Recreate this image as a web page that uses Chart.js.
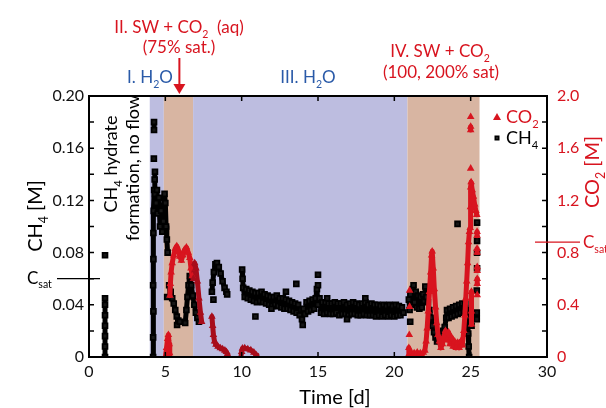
<!DOCTYPE html>
<html>
<head>
<meta charset="utf-8">
<script src="https://cdn.jsdelivr.net/npm/chart.js@4/dist/chart.umd.min.js"></script>
<style>
  html, body { margin: 0; padding: 0; background: #fff; }
</style>
</head>
<body>
<canvas id="chart" width="606" height="408"></canvas>
<script>
// ---- data (days, molar concentrations); null = gap in the record ----
const ch4Days = [
  1.05, 1.05, 1.05, 1.05, 1.05, 1.05, 1.05, 1.05,
  1.05, 1.05,
  4.2, 4.2, 4.22, 4.2, 4.22, 4.22, 4.24, 4.27, 4.3, 4.32, 4.32,
  4.25, 4.25, 4.26, 4.26, 4.26,
  4.32, 4.4, 4.45, 4.5, 4.58, 4.65, 4.72, 4.8, 4.87, 4.95, 5.0, 5.05, 5.1, 5.15, 5.15,
  5.12, 5.12, 5.77, 5.77,
  5.25, 5.35, 5.45, 5.55, 5.65, 5.75, 5.85, 5.95, 5.95,
  6.3, 6.38, 6.45, 6.52, 6.6, 6.7, 6.8, 6.9, 7.0, 7.1, 7.2, 7.2,
  8.05, 8.1, 8.18, 8.28, 8.38, 8.5, 8.62, 8.75, 8.88, 9.0, 9.05, 9.05, 8.15, 8.15,
  10.03, 10.06, 10.1,
  10.2, 10.3, 10.4, 10.5, 10.6, 10.7, 10.8, 10.9, 11.0, 11.1,
  11.2, 11.3, 11.4, 11.5, 11.6, 11.7, 11.8, 11.9, 12.0, 12.1,
  12.2, 12.3, 12.4, 12.5, 12.6, 12.7, 12.8, 12.9, 13.0, 13.1,
  13.2, 13.3, 13.4, 13.5, 13.6, 13.7, 13.8, 13.9,
  13.95, 14.05, 14.15, 14.25, 14.35, 14.45, 14.55, 14.65, 14.75, 14.85, 14.93,
  15.0, 15.1, 15.2, 15.3, 15.4, 15.5, 15.6, 15.7, 15.8, 15.9,
  16.0, 16.1, 16.2, 16.3, 16.4, 16.5, 16.6, 16.7, 16.8, 16.9,
  17.0, 17.1, 17.2, 17.3, 17.4, 17.5, 17.6, 17.7, 17.8, 17.9,
  18.0, 18.1, 18.2, 18.3, 18.4, 18.5, 18.6, 18.7, 18.8, 18.9,
  19.0, 19.1, 19.2, 19.3, 19.4, 19.5, 19.6, 19.7, 19.8, 19.9,
  20.0, 20.1, 20.2, 20.3, 20.4, 20.5, 20.6, 20.6,
  10.9, 10.9, 11.95, 11.95, 12.9, 12.9, 13.58, 13.58, 14.0, 14.0,
  15.0, 15.0, 15.0, 15.0, 15.6, 15.6, 16.9, 16.9, 18.1, 18.1,
  20.95, 21.0, 21.05, 21.12, 21.2, 21.26, 21.32, 21.4, 21.48, 21.56,
  21.64, 21.72, 21.8, 21.88, 21.96, 22.03, 22.1, 22.2, 22.3, 22.4,
  22.5, 22.6, 22.7, 22.8, 22.9, 23.0, 23.1, 23.2, 23.3, 23.4,
  23.45, 23.55, 23.65, 23.75, 23.85, 23.95, 24.05, 24.15, 24.25, 24.35,
  24.45, 24.55, 24.65, 24.72, 24.8, 24.84, 24.87, 24.9, 24.9,
  21.04, 21.04, 24.14, 24.14, 25.0, 25.0, 25.06, 25.06,
  25.42, 25.42, 25.42, 25.42, 25.42, 25.42, 25.42, 25.42,
  25.4, 25.4, 25.4, 25.4, 25.4, 25.4
];
const ch4Conc = [
  0, 0.008, 0.016, 0.024, 0.032, 0.04, 0.045, null,
  0.078, null,
  0, 0.015, 0.035, 0.055, 0.075, 0.095, 0.112, 0.128, 0.136, 0.142, null,
  0.152, null, 0.174, 0.18, null,
  0.125, 0.118, 0.128, 0.11, 0.122, 0.1, 0.112, 0.096, 0.104, 0.125, 0.118, 0.1, 0.09, 0.08, null,
  0.046, null, 0.0245, null,
  0.055, 0.05, 0.045, 0.041, 0.036, 0.031, 0.028, 0.027, null,
  0.026, 0.036, 0.046, 0.055, 0.062, 0.055, 0.047, 0.04, 0.034, 0.03, 0.027, null,
  0.05, 0.057, 0.065, 0.071, 0.072, 0.069, 0.064, 0.058, 0.053, 0.05, 0.048, null, 0.044, null,
  0.067, 0.06, 0.053,
  0.046, 0.052, 0.045, 0.051, 0.044, 0.05, 0.043, 0.049, 0.042, 0.049,
  0.043, 0.05, 0.042, 0.048, 0.041, 0.047, 0.04, 0.046, 0.039, 0.046,
  0.04, 0.047, 0.039, 0.045, 0.038, 0.045, 0.037, 0.044, 0.037, 0.043,
  0.036, 0.042, 0.035, 0.041, 0.034, 0.04, 0.032, 0.036,
  0.029, 0.037, 0.033, 0.042, 0.035, 0.043, 0.036, 0.044, 0.037, 0.045, 0.052,
  0.04, 0.045, 0.034, 0.042, 0.033, 0.042, 0.034, 0.041, 0.033, 0.041,
  0.033, 0.042, 0.034, 0.041, 0.032, 0.041, 0.033, 0.042, 0.033, 0.04,
  0.032, 0.041, 0.033, 0.042, 0.033, 0.041, 0.032, 0.04, 0.032, 0.041,
  0.033, 0.042, 0.032, 0.04, 0.032, 0.041, 0.032, 0.04, 0.031, 0.04,
  0.032, 0.039, 0.031, 0.04, 0.032, 0.039, 0.031, 0.04, 0.032, 0.039,
  0.031, 0.04, 0.032, 0.039, 0.032, 0.038, 0.034, null,
  0.031, null, 0.037, null, 0.05, null, 0.056, null, 0.0245, null,
  0.063, null, 0.055, null, 0.045, null, 0.029, null, 0.045, null,
  0.044, 0.036, 0.048, 0.04, 0.052, 0.055, 0.042, 0.05, 0.038, 0.047,
  0.037, 0.046, 0.038, 0.048, 0.043, 0.054, 0.046, 0.042, 0.036, 0.03,
  0.024, 0.019, 0.015, 0.012, 0.014, 0.016, 0.018, 0.02, 0.023, 0.03,
  0.036, 0.03, 0.037, 0.031, 0.038, 0.032, 0.039, 0.033, 0.04, 0.034,
  0.041, 0.035, 0.041, 0.036, 0.03, 0.018, 0.008, 0, null,
  0.027, null, 0.102, null, 0.033, null, 0.024, null,
  0.103, null, 0.089, null, 0.08, null, 0.068, null,
  0.051, null, 0.034, null, 0.029, null
];

const co2Days = [
  5.0, 5.08, 5.15, 5.2, 5.25, 5.28, 5.3, 5.3,
  5.3, 5.33, 5.38, 5.45, 5.55, 5.65, 5.75, 5.85, 5.95, 6.05, 6.15, 6.25, 6.38,
  6.5, 6.6, 6.68, 6.76, 6.84, 6.92, 7.0, 7.1, 7.2, 7.3, 7.38, 7.38,
  8.05, 8.1, 8.15, 8.22, 8.32, 8.45, 8.6, 8.75, 8.9, 9.0, 9.06, 9.1, 9.1,
  9.95, 10.0, 10.05, 10.2, 10.4, 10.6, 10.8, 10.95, 11.0, 11.0,
  21.0, 21.0, 21.0, 21.0, 20.98, 20.98,
  20.9, 20.95, 21.0, 21.1, 21.2, 21.3, 21.4, 21.5, 21.6, 21.7,
  21.8, 21.9, 22.0, 22.08, 22.15, 22.22, 22.3, 22.38, 22.44, 22.48,
  22.55, 22.62, 22.7, 22.78, 22.86, 22.95, 23.05, 23.15, 23.25, 23.35,
  23.45, 23.55, 23.65, 23.75, 23.85, 23.95, 24.05, 24.15, 24.25, 24.35,
  24.45, 24.55, 24.62, 24.68, 24.74, 24.8, 24.86, 24.92, 24.97, 24.99,
  25.0, 25.03, 25.1, 25.18, 25.26, 25.34, 25.4, 25.4,
  25.05, 25.05, 25.06, 25.06,
  25.0, 25.0, 25.0, 25.0, 25.0, 25.0, 25.0,
  25.42, 25.42, 25.42, 25.42, 25.42, 25.42, 25.43, 25.43, 25.43, 25.43, 25.43, 25.43, 25.43, 25.43
];
const co2Conc = [
  0, 0.07, 0.14, 0.17, 0.1, 0.03, 0, null,
  0.47, 0.56, 0.65, 0.72, 0.78, 0.83, 0.85, 0.82, 0.77, 0.74, 0.78, 0.82, 0.84,
  0.8, 0.76, 0.68, 0.62, 0.6, 0.72, 0.68, 0.58, 0.45, 0.34, 0.27, null,
  0.31, 0.24, 0.17, 0.12, 0.095, 0.08, 0.068, 0.06, 0.05, 0.04, 0.02, 0, null,
  0, 0.04, 0.065, 0.068, 0.06, 0.052, 0.035, 0.015, 0, null,
  0.51, null, 0.385, null, 0.17, null,
  0.005, 0.07, 0.02, 0.035, 0.01, 0.03, 0.012, 0.035, 0.015, 0.03,
  0.012, 0.035, 0.05, 0.12, 0.22, 0.35, 0.5, 0.65, 0.78, 0.81,
  0.68, 0.52, 0.38, 0.26, 0.17, 0.12, 0.07, 0.1, 0.16, 0.2,
  0.13, 0.19, 0.1, 0.15, 0.08, 0.12, 0.07, 0.11, 0.07, 0.12,
  0.09, 0.2, 0.32, 0.45, 0.58, 0.72, 0.88, 0.96, 0.99, 1.15,
  1.3, 1.34, 1.28, 1.23, 1.17, 1.12, 1.09, null,
  0.5, 0.35, 0.25, null,
  1.84, null, 1.765, 1.74, null, 1.445, null,
  0.96, 0.93, null, 0.83, 0.8, null, 0.69, 0.66, null, 0.6, 0.56, null, 0.475, null
];

// experimental stages (day ranges)
const stageStart = [3.98, 4.9, 6.82, 20.86];
const stageEnd = [4.9, 6.82, 20.86, 25.58];
const stageKind = ['H2O', 'CO2', 'H2O', 'CO2'];

// saturation levels
const ch4Sat = 0.06;
const co2Sat = 0.88;

if (ch4Days.length !== ch4Conc.length || co2Days.length !== co2Conc.length) {
  console.error('length mismatch', ch4Days.length, ch4Conc.length, co2Days.length, co2Conc.length);
}

const FONT = 'Lato, "Open Sans", sans-serif';
const RED = '#d8141f';
const DARK_RED = '#a80d1b';
const BLUE_TEXT = '#2a5aa8';
const BLUE_FILL = '#bdbde0';
const TAN_FILL = '#d8b5a2';

function inWater(t) {
  for (let i = 0; i < stageStart.length; i++) {
    if (stageKind[i] === 'H2O' && t >= stageStart[i] && t < stageEnd[i]) return true;
  }
  return false;
}

// text with subscripts: parts = [[text, isSub], ...]
function richText(ctx, parts, x, y, size, color, align) {
  let w = 0;
  parts.forEach(p => {
    ctx.font = (p[1] ? size * 0.62 : size) + 'px ' + FONT;
    w += ctx.measureText(p[0]).width;
  });
  let cx = align === 'center' ? x - w / 2 : (align === 'right' ? x - w : x);
  ctx.fillStyle = color;
  ctx.textAlign = 'left';
  ctx.textBaseline = 'alphabetic';
  parts.forEach(p => {
    const s = p[1] ? size * 0.62 : size;
    ctx.font = s + 'px ' + FONT;
    ctx.fillText(p[0], cx, y + (p[1] ? size * 0.28 : 0));
    cx += ctx.measureText(p[0]).width;
  });
}

function vertText(ctx, parts, x, y, size, color) {
  ctx.save();
  ctx.translate(x, y);
  ctx.rotate(-Math.PI / 2);
  richText(ctx, parts, 0, 0, size, color, 'center');
  ctx.restore();
}

const decor = {
  id: 'decor',
  beforeDatasetsDraw(chart) {
    const { ctx, chartArea: a, scales: { x } } = chart;
    ctx.save();
    for (let i = 0; i < stageStart.length; i++) {
      const x0 = x.getPixelForValue(stageStart[i]);
      const x1 = x.getPixelForValue(stageEnd[i]);
      ctx.fillStyle = stageKind[i] === 'H2O' ? BLUE_FILL : TAN_FILL;
      ctx.fillRect(x0, a.top, x1 - x0, a.bottom - a.top);
    }
    ctx.restore();
  },
  afterDraw(chart) {
    const { ctx, chartArea: a, scales: { x, y, y2 } } = chart;
    ctx.save();

    // frame
    ctx.strokeStyle = '#000';
    ctx.lineWidth = 2;
    ctx.strokeRect(a.left, a.top, a.right - a.left, a.bottom - a.top);

    // inward ticks
    ctx.lineWidth = 1.5;
    ctx.beginPath();
    x.ticks.forEach(t => {
      const px = x.getPixelForValue(t.value);
      ctx.moveTo(px, a.bottom); ctx.lineTo(px, a.bottom - 5);
      ctx.moveTo(px, a.top); ctx.lineTo(px, a.top + 5);
    });
    y.ticks.forEach(t => {
      const py = y.getPixelForValue(t.value);
      ctx.moveTo(a.left, py); ctx.lineTo(a.left + 5, py);
    });
    y2.ticks.forEach(t => {
      const py = y2.getPixelForValue(t.value);
      ctx.moveTo(a.right, py); ctx.lineTo(a.right - 5, py);
    });
    ctx.stroke();

    // saturation markers
    const ys = y.getPixelForValue(ch4Sat);
    ctx.strokeStyle = '#000';
    ctx.lineWidth = 1.3;
    ctx.beginPath(); ctx.moveTo(57, ys); ctx.lineTo(a.left + 11, ys); ctx.stroke();
    richText(ctx, [['C', false], ['sat', true]], 27, ys + 5, 17, '#000', 'left');
    const ys2 = y2.getPixelForValue(co2Sat);
    ctx.strokeStyle = RED;
    ctx.beginPath(); ctx.moveTo(a.right - 12, ys2); ctx.lineTo(580, ys2); ctx.stroke();
    richText(ctx, [['C', false], ['sat', true]], 583, ys2 + 6, 17, RED, 'left');

    // axis titles
    vertText(ctx, [['CH', false], ['4', true], [' [M]', false]], 42, 216, 20, '#000');
    vertText(ctx, [['CO', false], ['2', true], [' [M]', false]], 599, 172, 20, RED);
    richText(ctx, [['Time [d]', false]], 335, 404, 20, '#000', 'center');

    // in-plot note
    vertText(ctx, [['CH', false], ['4', true], [' hydrate', false]], 117, 164, 18, '#000');
    vertText(ctx, [['formation, no flow', false]], 139, 168, 18, '#000');

    // stage labels
    richText(ctx, [['II. SW + CO', false], ['2', true], ['  (aq)', false]], 179, 33, 17, RED, 'center');
    richText(ctx, [['(75% sat.)', false]], 179, 53, 17, RED, 'center');
    richText(ctx, [['I. H', false], ['2', true], ['O', false]], 150, 83, 17, BLUE_TEXT, 'center');
    richText(ctx, [['III. H', false], ['2', true], ['O', false]], 308, 83, 17, BLUE_TEXT, 'center');
    richText(ctx, [['IV. SW + CO', false], ['2', true]], 440, 57, 17, RED, 'center');
    richText(ctx, [['(100, 200% sat)', false]], 441, 78, 17, RED, 'center');

    // arrow to start of stage II
    const ax = x.getPixelForValue(5.92);
    ctx.strokeStyle = RED;
    ctx.fillStyle = RED;
    ctx.lineWidth = 2;
    ctx.beginPath(); ctx.moveTo(ax, 58); ctx.lineTo(ax, 86); ctx.stroke();
    ctx.beginPath(); ctx.moveTo(ax - 6, 84); ctx.lineTo(ax + 6, 84); ctx.lineTo(ax, 94); ctx.closePath(); ctx.fill();

    // legend
    ctx.fillStyle = RED;
    ctx.beginPath(); ctx.moveTo(497, 113); ctx.lineTo(501, 120); ctx.lineTo(493, 120); ctx.closePath(); ctx.fill();
    richText(ctx, [['CO', false], ['2', true]], 506, 123, 18, RED, 'left');
    ctx.fillStyle = '#000';
    ctx.fillRect(494.5, 135.5, 5, 5);
    ctx.fillStyle = '#888';
    ctx.fillRect(496.5, 137.5, 1, 1);
    richText(ctx, [['CH', false], ['4', true]], 506, 144, 18, '#000', 'left');

    ctx.restore();
  }
};

const ch4Data = ch4Days.map((d, i) => ({ x: d, y: ch4Conc[i] }));
const co2Data = co2Days.map((d, i) => ({ x: d, y: co2Conc[i] }));
const co2Color = c => (c.raw && inWater(c.raw.x)) ? DARK_RED : RED;

new Chart(document.getElementById('chart'), {
  type: 'scatter',
  data: {
    datasets: [
      {
        label: 'CO2',
        data: co2Data,
        yAxisID: 'y2',
        showLine: true,
        spanGaps: false,
        borderColor: RED,
        borderWidth: 5,
        borderJoinStyle: 'round',
        borderCapStyle: 'round',
        segment: { borderColor: s => inWater(s.p0.parsed.x) ? DARK_RED : RED },
        pointStyle: 'triangle',
        pointRadius: 4.4,
        pointBorderWidth: 0,
        pointBackgroundColor: co2Color,
        pointBorderColor: co2Color
      },
      {
        label: 'CH4',
        data: ch4Data,
        yAxisID: 'y',
        showLine: true,
        spanGaps: false,
        borderColor: '#000',
        borderWidth: 5,
        borderJoinStyle: 'round',
        borderCapStyle: 'round',
        pointStyle: 'rect',
        pointRadius: 3.4,
        pointBorderWidth: 1.8,
        pointBackgroundColor: '#161616',
        pointBorderColor: '#000'
      }
    ]
  },
  options: {
    responsive: false,
    animation: false,
    events: [],
    layout: { padding: { top: 96, left: 0, right: 0, bottom: 0 } },
    plugins: { legend: { display: false }, tooltip: { enabled: false } },
    scales: {
      x: {
        type: 'linear', position: 'bottom', min: 0, max: 30,
        grid: { display: false, drawTicks: false },
        border: { display: false },
        ticks: { stepSize: 5, padding: 5, maxRotation: 0, autoSkip: false, color: '#111', font: { family: FONT, size: 16 } },
        afterFit: s => { s.height = 51; }
      },
      y: {
        position: 'left', min: 0, max: 0.2,
        grid: { display: false, drawTicks: false },
        border: { display: false },
        ticks: {
          stepSize: 0.02, padding: 5, autoSkip: false, color: '#111', font: { family: FONT, size: 16 },
          callback: v => Math.round(v * 100) % 4 === 0 ? (v === 0 ? '0' : v.toFixed(2)) : ''
        },
        afterFit: s => { s.width = 89; }
      },
      y2: {
        position: 'right', min: 0, max: 2,
        grid: { display: false, drawTicks: false },
        border: { display: false },
        ticks: {
          stepSize: 0.2, padding: 10, autoSkip: false, color: RED, font: { family: FONT, size: 16 },
          callback: v => Math.round(v * 10) % 4 === 0 ? (v === 0 ? '0' : v.toFixed(1)) : ''
        },
        afterFit: s => { s.width = 59; }
      }
    }
  },
  plugins: [decor]
});
</script>
</body>
</html>
